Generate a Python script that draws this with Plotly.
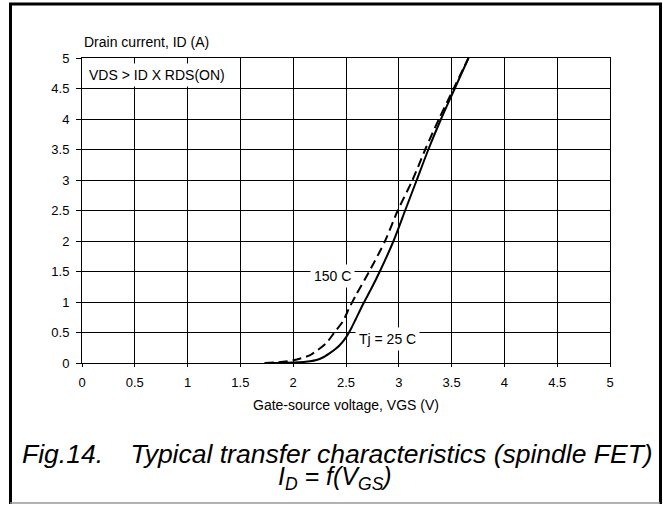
import plotly.graph_objects as go

# ---- data ----
vgs_25 = [1.73, 1.9, 2.0, 2.1, 2.16, 2.22, 2.28, 2.34, 2.4, 2.44, 2.5, 2.55, 2.59, 2.66, 2.74, 2.82, 2.95, 3.06, 3.17, 3.28, 3.40, 3.53, 3.66]
id_25 = [0.0, 0.002, 0.008, 0.018, 0.028, 0.048, 0.09, 0.155, 0.23, 0.29, 0.42, 0.57, 0.71, 0.96, 1.22, 1.5, 2.0, 2.5, 3.0, 3.5, 4.0, 4.5, 5.0]

vgs_150 = [1.73, 1.85, 2.0, 2.16, 2.31, 2.39, 2.47, 2.53, 2.59, 2.72, 2.87, 2.99, 3.13, 3.25, 3.38, 3.52, 3.66]
id_150 = [0.0, 0.01, 0.044, 0.13, 0.32, 0.5, 0.68, 0.9, 1.1, 1.5, 2.0, 2.5, 3.0, 3.5, 4.0, 4.5, 5.0]

x_ticks = [0, 0.5, 1, 1.5, 2, 2.5, 3, 3.5, 4, 4.5, 5]
x_tick_labels = ["0", "0.5", "1", "1.5", "2", "2.5", "3", "3.5", "4", "4.5", "5"]
y_ticks = [0, 0.5, 1, 1.5, 2, 2.5, 3, 3.5, 4, 4.5, 5]
y_tick_labels = ["0", "0.5", "1", "1.5", "2", "2.5", "3", "3.5", "4", "4.5", "5"]

FONT = "Arial, Liberation Sans, sans-serif"

fig = go.Figure()
fig.add_trace(go.Scatter(x=vgs_150, y=id_150, mode="lines",
                         line=dict(color="black", width=2, dash="9px,5px", shape="spline", smoothing=0.7),
                         showlegend=False, hoverinfo="skip"))
fig.add_trace(go.Scatter(x=vgs_25, y=id_25, mode="lines",
                         line=dict(color="black", width=2, shape="spline", smoothing=0.7),
                         showlegend=False, hoverinfo="skip"))

# plot-area geometry (pixels) used to place caption annotations in paper units
L, R, T, B = 82, 610, 58, 363
W, H = R - L, B - T

def px(xp):
    return (xp - L) / W

def py(yp):
    return (B - yp) / H

annos = [
    dict(text="Drain current, ID (A)", x=0, y=py(42), xref="paper", yref="paper", xanchor="left", yanchor="middle", font=dict(size=14)),
    dict(text="Gate-source voltage, VGS (V)", x=px(346), y=py(405), xref="paper", yref="paper", xanchor="center", yanchor="middle", font=dict(size=14)),
    dict(text="VDS > ID X RDS(ON)", x=0.03, y=4.72, xref="x", yref="y", xanchor="left", yanchor="middle", font=dict(size=14), bgcolor="white", borderpad=3),
    dict(text="150 C", x=2.37, y=1.42, xref="x", yref="y", xanchor="center", yanchor="middle", font=dict(size=14), bgcolor="white", borderpad=3),
    dict(text="Tj = 25 C", x=2.89, y=0.40, xref="x", yref="y", xanchor="center", yanchor="middle", font=dict(size=14), bgcolor="white", borderpad=3),
    dict(text="<i>Fig.14.\u00a0\u00a0\u00a0\u2009Typical transfer characteristics (spindle FET)</i>", x=px(337), y=py(454), xref="paper", yref="paper", xanchor="center", yanchor="middle", font=dict(size=26.5)),
    dict(text="<i>I<sub>D</sub> = f(V<sub>GS</sub>)</i>", x=px(335), y=py(478), xref="paper", yref="paper", xanchor="center", yanchor="middle", font=dict(size=25)),
]
for a in annos:
    a["showarrow"] = False
    fig.add_annotation(**a)

# outer frame
fig.add_shape(type="line", xref="paper", yref="paper", x0=px(10.5), x1=px(10.5), y0=py(3), y1=py(504), line=dict(color="black", width=3))
fig.add_shape(type="line", xref="paper", yref="paper", x0=px(9), x1=px(662), y0=py(4), y1=py(4), line=dict(color="black", width=3))
fig.add_shape(type="line", xref="paper", yref="paper", x0=px(660.5), x1=px(660.5), y0=py(3), y1=py(504), line=dict(color="black", width=3))
fig.add_shape(type="line", xref="paper", yref="paper", x0=px(10), x1=px(660), y0=py(503), y1=py(503), line=dict(color="#999", width=1.5))

fig.update_layout(
    width=663, height=506,
    margin=dict(l=L, r=663 - R, t=T, b=506 - B),
    paper_bgcolor="white", plot_bgcolor="white",
    font=dict(family=FONT, color="black", size=13),
)
fig.update_xaxes(range=[0, 5], tickvals=x_ticks, ticktext=x_tick_labels, showgrid=True, gridcolor="black", gridwidth=1,
                 showline=True, linecolor="black", linewidth=1, mirror=True, ticks="outside", ticklen=3, tickcolor="black",
                 zeroline=False, tickfont=dict(size=13), ticklabelstandoff=4)
fig.update_yaxes(range=[0, 5], tickvals=y_ticks, ticktext=y_tick_labels, showgrid=True, gridcolor="black", gridwidth=1,
                 showline=True, linecolor="black", linewidth=1, mirror=True, ticks="outside", ticklen=5, tickcolor="black",
                 zeroline=False, tickfont=dict(size=13), ticklabelstandoff=4)

fig.write_html("out.html", config={"displayModeBar": False},
               post_script="document.body.style.margin='0px';")
